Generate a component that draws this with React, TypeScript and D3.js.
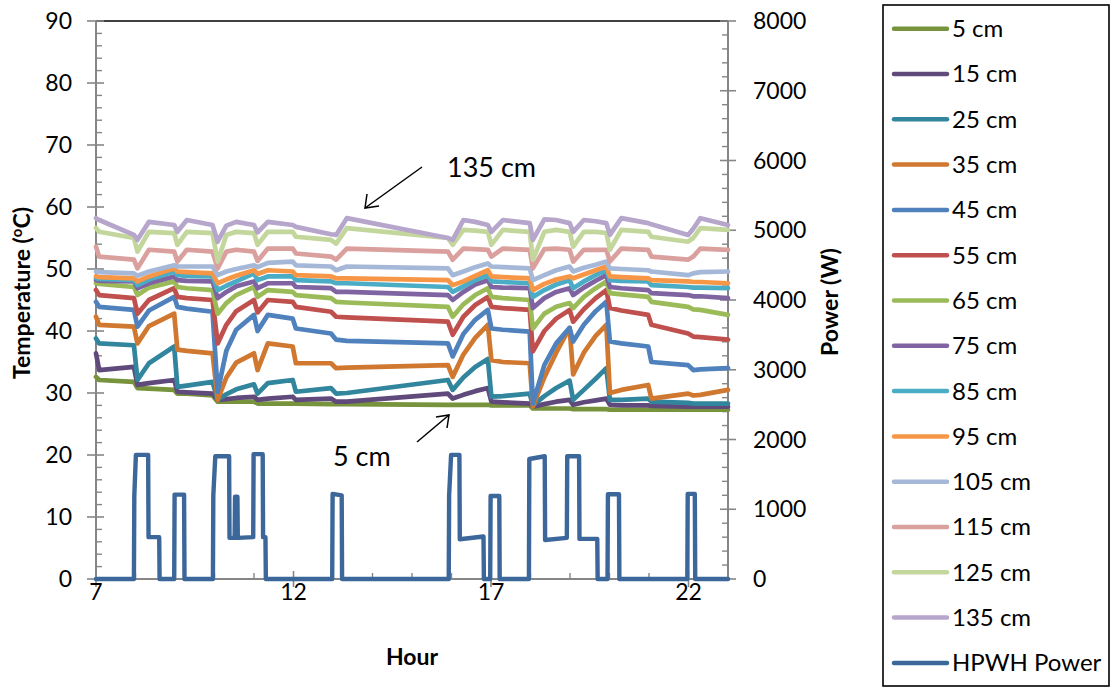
import React from 'react';
import * as d3 from 'd3';

// Sample hours shared by all temperature series
const HOURS = [7.0, 7.08, 7.96, 8.05, 8.34, 8.98, 9.06, 9.3, 9.95, 10.08, 10.3, 10.55, 11.0, 11.09, 11.35, 11.98, 12.06, 12.95, 13.08, 13.35, 15.91, 16.03, 16.3, 16.6, 16.92, 17.01, 17.3, 17.98, 18.06, 18.35, 18.65, 18.99, 19.08, 19.35, 19.65, 19.92, 20.01, 20.3, 20.98, 21.06, 21.99, 22.12, 22.3, 23.0];

const T5 = [32.6, 32.1, 31.8, 30.8, 30.7, 30.5, 29.9, 29.9, 29.6, 28.6, 28.6, 28.6, 28.6, 28.3, 28.3, 28.3, 28.3, 28.2, 28.2, 28.2, 28.1, 28.1, 28.1, 28.1, 28.1, 28.0, 28.0, 28.0, 27.5, 27.5, 27.5, 27.5, 27.4, 27.4, 27.4, 27.4, 27.3, 27.3, 27.3, 27.3, 27.3, 27.3, 27.3, 27.3];
const T15 = [36.4, 33.7, 34.2, 31.3, 31.6, 32.1, 30.2, 30.1, 29.9, 28.9, 29.0, 29.2, 29.4, 28.9, 29.1, 29.4, 28.9, 29.1, 28.6, 28.6, 29.9, 29.1, 29.7, 30.3, 30.8, 28.6, 28.5, 28.3, 27.8, 28.2, 28.6, 28.9, 28.1, 28.5, 28.8, 29.1, 28.1, 28.0, 28.0, 27.9, 27.8, 27.8, 27.8, 27.8];
const T25 = [38.8, 38.0, 37.7, 32.1, 34.8, 37.5, 31.0, 31.2, 31.8, 28.9, 29.8, 30.6, 31.4, 29.9, 31.6, 32.1, 30.2, 30.8, 29.9, 30.0, 32.1, 30.5, 32.5, 34.2, 35.5, 29.4, 29.5, 29.9, 28.0, 29.5, 30.8, 32.0, 28.9, 30.5, 32.3, 34.0, 28.9, 28.9, 29.1, 28.6, 28.4, 28.3, 28.3, 28.3];
const T35 = [42.3, 41.0, 40.7, 38.0, 40.8, 42.8, 37.0, 36.8, 36.4, 28.9, 32.5, 34.9, 36.4, 33.7, 38.0, 37.5, 34.8, 34.8, 34.0, 34.1, 34.5, 32.6, 36.2, 38.9, 41.0, 35.3, 35.0, 34.8, 27.8, 32.5, 36.5, 40.5, 33.0, 36.5, 39.2, 41.0, 30.0, 30.5, 31.3, 29.1, 29.9, 29.6, 29.7, 30.5];
const T45 = [44.7, 43.9, 43.4, 40.7, 43.3, 45.5, 43.9, 43.6, 43.1, 30.2, 36.8, 40.2, 42.6, 40.0, 42.6, 42.0, 40.4, 39.6, 38.6, 38.4, 38.0, 35.9, 39.5, 41.8, 43.4, 40.4, 40.2, 39.9, 28.3, 34.5, 38.0, 40.5, 38.3, 41.0, 43.2, 44.7, 38.3, 38.0, 37.5, 35.0, 34.5, 33.7, 33.8, 34.0];
const T55 = [46.6, 45.8, 45.3, 42.8, 45.0, 46.9, 45.5, 45.3, 45.0, 38.0, 41.0, 43.2, 45.0, 43.0, 45.0, 44.7, 43.9, 43.1, 42.3, 42.2, 41.5, 39.4, 42.3, 44.2, 45.5, 43.9, 43.7, 43.4, 36.7, 40.0, 42.0, 43.4, 41.5, 43.5, 45.3, 46.6, 43.7, 43.3, 42.6, 41.0, 39.6, 39.1, 39.0, 38.6];
const T65 = [47.7, 47.6, 47.1, 45.8, 47.0, 48.0, 47.1, 46.9, 46.6, 42.8, 44.5, 45.8, 47.1, 45.5, 46.6, 46.3, 45.8, 45.3, 44.7, 44.6, 43.9, 42.3, 44.3, 45.8, 46.9, 45.5, 45.3, 45.0, 40.4, 42.8, 43.9, 44.5, 43.7, 45.5, 46.9, 48.0, 46.1, 45.9, 45.5, 44.7, 43.9, 43.5, 43.4, 42.6];
const T75 = [48.2, 48.1, 48.0, 46.9, 47.7, 48.8, 48.2, 48.1, 48.0, 45.3, 46.3, 47.2, 48.0, 46.9, 47.7, 47.7, 47.1, 46.9, 46.3, 46.3, 45.8, 45.0, 46.3, 47.5, 48.2, 47.1, 47.0, 46.9, 43.7, 45.3, 46.3, 46.9, 45.8, 47.0, 48.1, 49.0, 47.1, 46.9, 46.6, 46.1, 45.8, 45.6, 45.6, 45.3];
const T85 = [48.5, 48.4, 48.2, 47.4, 48.3, 49.6, 49.0, 48.9, 48.8, 46.6, 47.3, 48.0, 49.3, 48.2, 48.8, 48.8, 48.2, 48.0, 47.7, 47.7, 47.1, 46.3, 47.2, 48.2, 49.0, 48.0, 47.9, 47.7, 45.5, 46.6, 47.5, 48.2, 46.9, 48.0, 49.0, 49.8, 48.2, 48.1, 48.0, 47.4, 47.1, 47.0, 47.0, 46.9];
const T95 = [48.8, 48.7, 48.5, 48.0, 48.8, 50.1, 49.6, 49.5, 49.3, 47.7, 48.3, 48.9, 49.8, 49.2, 49.8, 49.6, 49.0, 48.8, 48.5, 48.5, 48.2, 47.4, 48.0, 48.9, 49.8, 48.8, 48.7, 48.5, 46.6, 47.6, 48.3, 48.8, 48.5, 49.1, 49.8, 50.4, 48.8, 48.7, 48.5, 48.2, 48.0, 47.9, 47.9, 47.7];
const T105 = [49.6, 49.5, 49.3, 48.9, 49.6, 50.6, 50.4, 50.4, 50.4, 49.0, 49.6, 50.0, 50.6, 50.3, 51.0, 51.2, 50.6, 50.4, 49.8, 50.4, 50.1, 49.0, 49.6, 50.3, 50.9, 50.4, 50.3, 50.1, 48.2, 49.0, 49.8, 50.4, 49.6, 50.2, 50.7, 51.2, 50.1, 50.0, 49.8, 49.6, 49.0, 49.3, 49.5, 49.6];
const T115 = [53.6, 52.0, 51.5, 50.1, 53.1, 52.8, 51.2, 53.1, 52.8, 50.1, 52.8, 53.1, 52.8, 51.3, 53.3, 53.3, 52.5, 52.0, 51.5, 53.3, 52.8, 51.5, 53.3, 53.2, 53.1, 52.0, 53.3, 53.1, 50.1, 53.2, 53.3, 53.1, 51.2, 53.1, 53.1, 53.1, 51.2, 53.3, 53.1, 52.0, 51.5, 52.0, 53.3, 53.1];
const T125 = [56.6, 56.0, 55.0, 52.8, 56.0, 55.8, 53.9, 56.0, 55.8, 51.2, 55.5, 56.0, 55.8, 53.9, 56.0, 56.0, 55.2, 54.7, 54.1, 56.6, 55.0, 53.9, 56.3, 56.2, 56.0, 53.9, 56.3, 56.0, 51.5, 56.0, 56.3, 56.0, 53.6, 56.0, 56.0, 55.8, 53.1, 56.3, 56.0, 55.2, 54.4, 55.0, 56.6, 56.3];
const T135 = [58.2, 57.9, 55.5, 54.7, 57.6, 57.1, 56.0, 57.9, 57.1, 54.4, 57.0, 57.6, 57.1, 55.9, 57.6, 57.1, 56.8, 55.6, 55.5, 58.2, 55.0, 54.7, 57.9, 57.6, 57.1, 56.0, 57.9, 57.4, 54.7, 58.0, 57.9, 57.4, 56.0, 57.9, 57.7, 57.4, 55.5, 58.2, 57.4, 57.2, 55.5, 56.5, 58.2, 57.1];

const SERIES_NAMES = ['5 cm', '15 cm', '25 cm', '35 cm', '45 cm', '55 cm', '65 cm', '75 cm', '85 cm', '95 cm', '105 cm', '115 cm', '125 cm', '135 cm'];
const SERIES_VALUES = [T5, T15, T25, T35, T45, T55, T65, T75, T85, T95, T105, T115, T125, T135];
const SERIES_COLORS = ['#77933C', '#604A7B', '#31859C', '#D0782F', '#4F81BD', '#C0504D', '#9BBB59', '#8064A2', '#4BACC6', '#F79646', '#A5B8D8', '#D9A09E', '#C3D69B', '#B7A6CC'];

const POWER_NAME = 'HPWH Power';
const POWER_COLOR = '#3C679A';
const POWER_HOURS = [7.0, 7.96, 7.97, 8.01, 8.32, 8.33, 8.6, 8.61, 8.98, 8.99, 9.23, 9.24, 9.96, 9.97, 10.02, 10.37, 10.38, 10.51, 10.52, 10.58, 10.59, 10.98, 10.99, 11.22, 11.23, 11.29, 11.3, 12.98, 12.99, 13.22, 13.23, 15.93, 15.94, 15.99, 16.2, 16.21, 16.81, 16.82, 16.98, 16.99, 17.21, 17.22, 17.96, 17.97, 18.36, 18.37, 18.92, 18.93, 19.23, 19.24, 19.69, 19.7, 19.95, 19.96, 20.24, 20.25, 21.97, 21.98, 22.16, 22.17, 23.0];
const POWER_W = [0, 0, 1200, 1780, 1780, 600, 600, 0, 0, 1210, 1210, 0, 0, 1200, 1760, 1760, 590, 590, 1180, 1180, 590, 600, 1790, 1790, 600, 600, 0, 0, 1220, 1200, 0, 0, 1200, 1780, 1780, 570, 610, 0, 0, 1190, 1190, 0, 0, 1720, 1760, 560, 590, 1760, 1760, 575, 575, 0, 0, 1215, 1215, 0, 0, 1220, 1220, 0, 0];

const TEMP_TICKS = [0, 10, 20, 30, 40, 50, 60, 70, 80, 90];
const POWER_TICKS = [0, 1000, 2000, 3000, 4000, 5000, 6000, 7000, 8000];
const HOUR_TICKS = [7, 12, 17, 22];

const FONT = 'Lato, "Open Sans", sans-serif';
const AXIS = '#868686';

export default function App() {
  const x = d3.scaleLinear().domain([7, 23]).range([96, 728]);
  const yT = d3.scaleLinear().domain([0, 90]).range([579, 21]);
  const yP = d3.scaleLinear().domain([0, 8000]).range([579, 21]);

  const tempLine = (vals: number[]) =>
    d3.line<number>().x((_, i) => x(HOURS[i])).y((d) => yT(d))(vals) || '';
  const powerPath =
    d3.line<number>().x((_, i) => x(POWER_HOURS[i])).y((d) => yP(d))(POWER_W) || '';

  const tempMinor = d3.range(0, 91, 2).filter((v) => v % 10 !== 0);
  const powerMinor = d3.range(0, 8001, 200).filter((v) => v % 1000 !== 0);
  const hourMinor = d3.range(8, 23, 1).filter((v) => !HOUR_TICKS.includes(v));

  const legendItems = [
    ...SERIES_NAMES.map((n, i) => ({ name: n, color: SERIES_COLORS[i] })),
    { name: POWER_NAME, color: POWER_COLOR },
  ];

  return (
    <svg width={1112} height={687} style={{ position: 'absolute', left: 0, top: 0, background: '#fff' }} fontFamily={FONT}>
      <rect x={0} y={0} width={1112} height={687} fill="#fff" />
      {/* top border */}
      <line x1={x(7)} x2={x(23)} y1={yT(90)} y2={yT(90)} stroke="#000" strokeWidth={1.6} />

      {/* left axis */}
      <line x1={x(7)} x2={x(7)} y1={yT(0)} y2={yT(90)} stroke={AXIS} strokeWidth={2} />
      {TEMP_TICKS.map((t) => (
        <g key={'lt' + t}>
          <line x1={x(7) - 9} x2={x(7) + 8} y1={yT(t)} y2={yT(t)} stroke={AXIS} strokeWidth={1.6} />
          <text x={72} y={yT(t)} dy="0.35em" textAnchor="end" fontSize={23} fill="#000">{t}</text>
        </g>
      ))}
      {tempMinor.map((t) => (
        <line key={'lm' + t} x1={x(7)} x2={x(7) + 6} y1={yT(t)} y2={yT(t)} stroke={AXIS} strokeWidth={1.4} />
      ))}

      {/* right axis */}
      <line x1={x(23)} x2={x(23)} y1={yP(0)} y2={yP(8000)} stroke={AXIS} strokeWidth={2} />
      {POWER_TICKS.map((p) => (
        <g key={'rt' + p}>
          <line x1={x(23) - 8} x2={x(23) + 8} y1={yP(p)} y2={yP(p)} stroke={AXIS} strokeWidth={1.6} />
          <text x={753} y={yP(p)} dy="0.35em" textAnchor="start" fontSize={23} fill="#000">{p}</text>
        </g>
      ))}
      {powerMinor.map((p) => (
        <line key={'rm' + p} x1={x(23) - 6} x2={x(23)} y1={yP(p)} y2={yP(p)} stroke={AXIS} strokeWidth={1.4} />
      ))}

      {/* bottom axis */}
      <line x1={x(7)} x2={x(23)} y1={yT(0)} y2={yT(0)} stroke={AXIS} strokeWidth={2} />
      {HOUR_TICKS.map((h) => (
        <g key={'bt' + h}>
          <line x1={x(h)} x2={x(h)} y1={yT(0) - 8} y2={yT(0) + 8} stroke={AXIS} strokeWidth={1.6} />
          <text x={x(h)} y={600} textAnchor="middle" fontSize={23} fill="#000">{h}</text>
        </g>
      ))}
      {hourMinor.map((h) => (
        <line key={'bm' + h} x1={x(h)} x2={x(h)} y1={yT(0) - 6} y2={yT(0)} stroke={AXIS} strokeWidth={1.4} />
      ))}

      {/* axis titles */}
      <text x={412} y={665} textAnchor="middle" fontSize={23} fontWeight="bold">Hour</text>
      <text transform={`translate(30, 293) rotate(-90)`} textAnchor="middle" fontSize={23} fontWeight="bold">
        Temperature (<tspan fontSize={15} dy={-8}>o</tspan><tspan dy={8}>C)</tspan>
      </text>
      <text transform={`translate(838, 302) rotate(-90)`} textAnchor="middle" fontSize={23} fontWeight="bold">Power (W)</text>

      {/* temperature series */}
      {SERIES_VALUES.map((vals, i) => (
        <path key={'s' + i} d={tempLine(vals)} fill="none" stroke={SERIES_COLORS[i]} strokeWidth={4.7} strokeLinejoin="round" strokeLinecap="round" />
      ))}
      {/* power series */}
      <path d={powerPath} fill="none" stroke={POWER_COLOR} strokeWidth={4.4} strokeLinejoin="round" strokeLinecap="round" />

      {/* annotations */}
      <text x={447} y={177} fontSize={27} fill="#000">135 cm</text>
      <line x1={422} y1={167} x2={365} y2={208} stroke="#000" strokeWidth={1.5} />
      <polyline points="367,194 365,208 379,206" fill="none" stroke="#000" strokeWidth={1.5} />
      <text x={333} y={466} fontSize={27} fill="#000">5 cm</text>
      <line x1={417} y1={442} x2={449} y2={415} stroke="#000" strokeWidth={1.5} />
      <polyline points="436,417 449,415 447,428" fill="none" stroke="#000" strokeWidth={1.5} />

      {/* legend */}
      <rect x={883} y={5} width={226} height={681} fill="#fff" stroke="#000" strokeWidth={1.6} />
      {legendItems.map((it, i) => {
        const ly = 28.7 + i * 45.3;
        return (
          <g key={'lg' + i}>
            <line x1={894} x2={947} y1={ly} y2={ly} stroke={it.color} strokeWidth={4.5} strokeLinecap="round" />
            <text x={952} y={ly} dy="0.35em" fontSize={24} fill="#000">{it.name}</text>
          </g>
        );
      })}
    </svg>
  );
}
